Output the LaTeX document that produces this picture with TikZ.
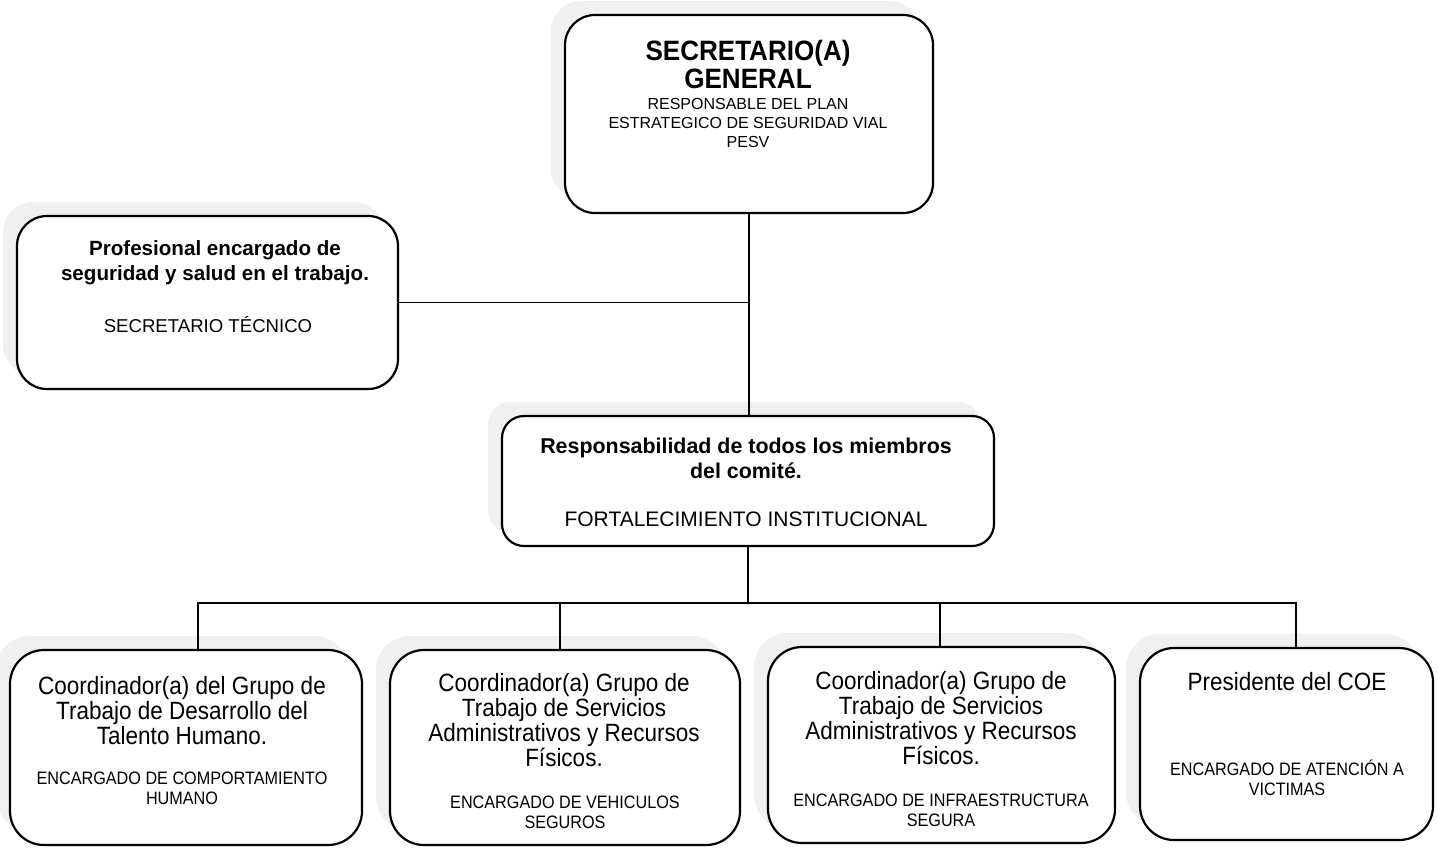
\documentclass[tikz,border=0pt]{standalone}
\usepackage{fontspec}
\setmainfont{Liberation Sans}
\newfontfamily\nrw[FakeStretch=0.9]{Liberation Sans}
\newfontfamily\ttlfont[FakeStretch=0.93]{Liberation Sans}
\usetikzlibrary{calc,shadows}
\begin{document}
\begin{tikzpicture}[x=0.5pt,y=-0.5pt,
  box/.style={draw=black, line width=1.1pt, fill=white, inner sep=0pt,
    drop shadow={shadow xshift=-7pt, shadow yshift=7pt, fill=black!6, opacity=1}},
  txt/.style={anchor=north, inner sep=0pt, align=center},
  conn/.style={line width=0.8pt},
  ttl/.style={font=\ttlfont\bfseries\fontsize{14}{14}\selectfont},
  hd/.style={font=\bfseries\fontsize{10.3}{12.5}\selectfont},
  hdn/.style={font=\nrw\fontsize{12.5}{12.5}\selectfont},
  sm/.style={font=\fontsize{8}{9.6}\selectfont},
  smn/.style={font=\nrw\fontsize{9}{10}\selectfont}]
\useasboundingbox (0,0) rectangle (1438,847);

% boxes
\node[box, rounded corners=15pt, minimum width=184pt, minimum height=99pt] (top) at (749,114) {};
\node[box, rounded corners=15pt, minimum width=190.5pt, minimum height=86.5pt] (left) at (207.5,302.5) {};
\node[box, rounded corners=11pt, minimum width=246pt, minimum height=65pt] (mid) at (748,481) {};
\node[box, rounded corners=17pt, minimum width=176pt, minimum height=97.5pt] (b1) at (186,747.5) {};
\node[box, rounded corners=17pt, minimum width=175pt, minimum height=97.5pt] (b2) at (565,747.5) {};
\node[box, rounded corners=17pt, minimum width=173.5pt, minimum height=98pt] (b3) at (941.5,745) {};
\node[box, rounded corners=17pt, minimum width=146.5pt, minimum height=96pt] (b4) at (1286.5,744) {};

% texts
\node[txt, ttl] (t1) at (748,40) {SECRETARIO(A)\\GENERAL};
\node[txt, sm] (t2) at (748,98) {RESPONSABLE DEL PLAN\\ESTRATEGICO DE SEGURIDAD VIAL\\PESV};
\node[txt, hd] (l1) at (215,240) {Profesional encargado de\\seguridad y salud en el trabajo.};
\node[txt, font=\fontsize{9.3}{11}\selectfont] (l2) at (208,316) {SECRETARIO TÉCNICO};
\node[txt, font=\bfseries\fontsize{10.7}{12.5}\selectfont] (m1) at (746,438) {Responsabilidad de todos los miembros\\del comité.};
\node[txt, font=\fontsize{10.5}{12}\selectfont] (m2) at (746,511) {FORTALECIMIENTO INSTITUCIONAL};
\node[txt, hdn] (c1) at (182,676) {Coordinador(a) del Grupo de\\Trabajo de Desarrollo del\\Talento Humano.};
\node[txt, smn] (d1) at (182,772) {ENCARGADO DE COMPORTAMIENTO\\HUMANO};
\node[txt, hdn] (c2) at (564,673) {Coordinador(a) Grupo de\\Trabajo de Servicios\\Administrativos y Recursos\\Físicos.};
\node[txt, smn] (d2) at (565,796) {ENCARGADO DE VEHICULOS\\SEGUROS};
\node[txt, hdn] (c3) at (941,671) {Coordinador(a) Grupo de\\Trabajo de Servicios\\Administrativos y Recursos\\Físicos.};
\node[txt, smn] (d3) at (941,794) {ENCARGADO DE INFRAESTRUCTURA\\SEGURA};
\node[txt, hdn] (c4) at (1287,672) {Presidente del COE};
\node[txt, smn] (d4) at (1287,759) {ENCARGADO DE ATENCIÓN A\\VICTIMAS};

% connectors
\coordinate (bus) at (748,603);
\draw[conn] (top.south) -- (top.south |- mid.north);
\draw[conn] (left.east) -- (left.east -| top.south);
\draw[conn] (mid.south) -- (mid.south |- bus);
\coordinate (p1) at ($(b1.north)+(12,0)$);
\coordinate (p2) at ($(b2.north)+(-5,0)$);
\coordinate (p3) at ($(b3.north)+(-1.5,0)$);
\coordinate (p4) at ($(b4.north)+(9.5,0)$);
\draw[conn] (p1) -- (p1 |- bus) -- (p4 |- bus) -- (p4);
\draw[conn] (p2) -- (p2 |- bus);
\draw[conn] (p3) -- (p3 |- bus);
\end{tikzpicture}
\end{document}
